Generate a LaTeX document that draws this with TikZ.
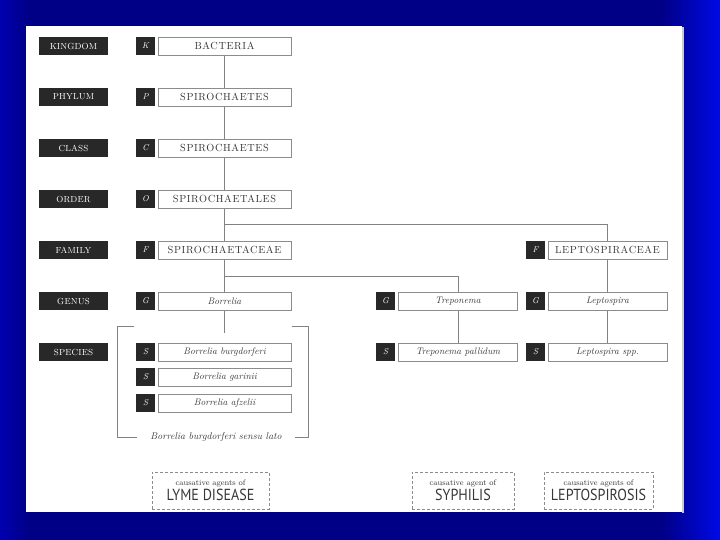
\documentclass[tikz,border=0pt]{standalone}
\usepackage{fontspec}
\newfontfamily\capfont[LetterSpace=6]{Latin Modern Roman}
\newfontfamily\labfont[LetterSpace=2]{Latin Modern Roman}
\newfontfamily\bigsans{PT Sans}
\definecolor{b1}{RGB}{0,0,176}
\definecolor{b2}{RGB}{0,0,135}
\definecolor{b3}{RGB}{0,10,230}
\definecolor{labfill}{RGB}{40,40,40}
\definecolor{boxgray}{RGB}{140,140,140}
\definecolor{linegray}{RGB}{130,130,130}
\definecolor{txtgray}{RGB}{55,55,55}
\pgfdeclarehorizontalshading{bluebg}{100bp}{color(0bp)=(b1); color(25bp)=(b1); color(27bp)=(b2); color(71bp)=(b2); color(75bp)=(b3); color(100bp)=(b3)}
\pgfdeclarelayer{bg}
\pgfdeclarelayer{lines}
\pgfsetlayers{bg,lines,main}
\begin{document}
\begin{tikzpicture}[x=1pt,y=-1pt,
  lab/.style={fill=labfill,text=white,minimum width=69pt,minimum height=18pt,inner sep=0pt,font=\labfont\fontsize{8.8}{9}\selectfont},
  letbox/.style={fill=labfill,text=white,minimum width=19pt,minimum height=18pt,inner sep=0pt,font=\itshape\fontsize{8.5}{8.5}\selectfont},
  nm/.style={draw=boxgray,fill=white,line width=0.8pt,minimum width=133pt,minimum height=18pt,inner sep=0pt,text=txtgray},
  nmr/.style={nm,minimum width=119pt},
  caps/.style={font=\capfont\fontsize{10.3}{10}\selectfont},
  ital/.style={font=\itshape\fontsize{9.5}{9.5}\selectfont},
  conn/.style={draw=linegray,line width=0.9pt},
  agent/.style={draw=boxgray,densely dashed,line width=0.7pt,minimum height=37pt,inner sep=0pt,align=center,text=txtgray}
]
\useasboundingbox (0,0) rectangle (720,540);
\begin{pgfonlayer}{bg}
  \shade[shading=bluebg] (0,0) rectangle (720,540);
  \fill[gray!40] (682,27) rectangle (684,513);
  \fill[white] (26,26) rectangle (682,512);
\end{pgfonlayer}

% rank labels
\node[lab] (lk) at (73.5,46) {KINGDOM};
\node[lab] (lp) at (73.5,97) {PHYLUM};
\node[lab] (lc) at (73.5,148) {CLASS};
\node[lab] (lo) at (73.5,199) {ORDER};
\node[lab] (lf) at (73.5,250) {FAMILY};
\node[lab] (lg) at (73.5,301) {GENUS};
\node[lab] (ls) at (73.5,352) {SPECIES};

% letters
\node[letbox] (k1) at (145.5,46) {K};
\node[letbox] (p1) at (145.5,97) {P};
\node[letbox] (c1) at (145.5,148) {C};
\node[letbox] (o1) at (145.5,199) {O};
\node[letbox] (f1) at (145.5,250) {F};
\node[letbox] (g1) at (145.5,301) {G};
\node[letbox] (s1) at (145.5,352) {S};
\node[letbox] (s2) at (145.5,377) {S};
\node[letbox] (s3) at (145.5,403) {S};
\node[letbox] (g2) at (385.5,301) {G};
\node[letbox] (s4) at (385.5,352) {S};
\node[letbox] (f3) at (535.5,250) {F};
\node[letbox] (g3) at (535.5,301) {G};
\node[letbox] (s5) at (535.5,352) {S};

% name boxes
\node[nm,caps] (bact) at (224.5,46) {BACTERIA};
\node[nm,caps] (phy) at (224.5,97) {SPIROCHAETES};
\node[nm,caps] (cls) at (224.5,148) {SPIROCHAETES};
\node[nm,caps] (ord) at (224.5,199) {SPIROCHAETALES};
\node[nm,caps] (fam) at (224.5,250) {SPIROCHAETACEAE};
\node[nm,ital] (bor) at (224.5,301) {Borrelia};
\node[nm,ital] (bb) at (224.5,352) {Borrelia burgdorferi};
\node[nm,ital] (bg) at (224.5,377) {Borrelia garinii};
\node[nm,ital] (ba) at (224.5,403) {Borrelia afzelii};
\node[nmr,ital] (tre) at (458,301) {Treponema};
\node[nmr,ital] (tp) at (458,352) {Treponema pallidum};
\node[nmr,caps] (lfam) at (607.5,250) {LEPTOSPIRACEAE};
\node[nmr,ital] (lep) at (607.5,301) {Leptospira};
\node[nmr,ital] (lsp) at (607.5,352) {Leptospira spp.};

% connectors
\coordinate (j1) at (224.5,224);
\coordinate (j2) at (224.5,276);
\coordinate (bend) at (224.5,333);
\begin{pgfonlayer}{lines}
  \draw[conn] (bact.south) -- (phy.north);
  \draw[conn] (phy.south) -- (cls.north);
  \draw[conn] (cls.south) -- (ord.north);
  \draw[conn] (ord.south) -- (fam.north);
  \draw[conn] (fam.south) -- (bor.north);
  \draw[conn] (bor.south) -- (bend);
  \draw[conn] (j1) -| (lfam.north);
  \draw[conn] (lfam.south) -- (lep.north);
  \draw[conn] (lep.south) -- (lsp.north);
  \draw[conn] (j2) -| (tre.north);
  \draw[conn] (tre.south) -- (tp.north);
\end{pgfonlayer}

% bracket
\draw[conn,line width=0.7pt] (134,326) -- (117,326) -- (117,437) -- (137,437);
\draw[conn,line width=0.7pt] (292,326) -- (308,326) -- (308,437) -- (295,437);
\node[text=txtgray,font=\itshape\fontsize{9.8}{9.8}\selectfont] (sl) at (216,437.5) {Borrelia burgdorferi sensu lato};

% agents
\node[agent,minimum width=117pt] (lyme) at (210.5,490.5) {{\fontsize{8}{8}\selectfont causative agents of}\\[1pt]{\bigsans\fontsize{16}{16}\selectfont\scalebox{0.88}[1]{LYME DISEASE}}};
\node[agent,minimum width=102pt] (syph) at (463,490.5) {{\fontsize{8}{8}\selectfont causative agent of}\\[1pt]{\bigsans\fontsize{16}{16}\selectfont\scalebox{0.88}[1]{SYPHILIS}}};
\node[agent,minimum width=109pt] (lepto) at (598.5,490.5) {{\fontsize{8}{8}\selectfont causative agents of}\\[1pt]{\bigsans\fontsize{16}{16}\selectfont\scalebox{0.88}[1]{LEPTOSPIROSIS}}};
\end{tikzpicture}
\end{document}
